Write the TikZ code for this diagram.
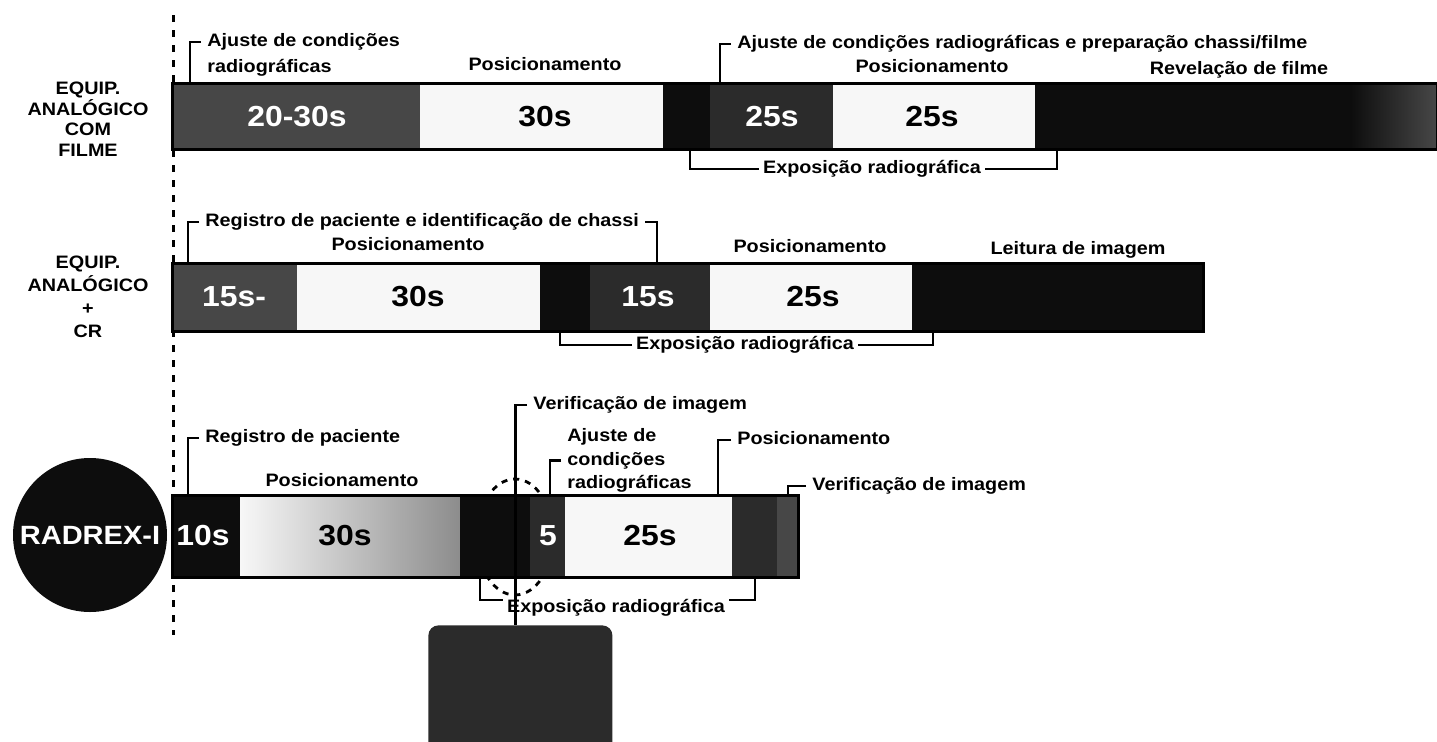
\documentclass[tikz,border=0pt]{standalone}
\usepackage{fontspec}
\setmainfont{Liberation Sans}[FakeStretch=1.1]
\usetikzlibrary{positioning}

\definecolor{segblack}{gray}{0.05}
\definecolor{segdeep}{gray}{0.17}
\definecolor{segdark}{gray}{0.28}
\definecolor{seglight}{gray}{0.97}

\tikzset{
  lbl/.style={font=\fontsize{9}{11}\selectfont\bfseries, inner sep=2pt, text height=6.5pt, text depth=1.9pt},
  numw/.style={font=\fontsize{14.5}{16}\selectfont\bfseries, text=white},
  numb/.style={font=\fontsize{14.5}{16}\selectfont\bfseries},
  equip/.style={font=\fontsize{9}{10.25}\selectfont\bfseries, align=center},
  brk/.style={line width=1.4pt},
  bar/.style={line width=1.5pt},
  guide/.style={line width=1.5pt, dash pattern=on 3.5pt off 4pt}
}

\begin{document}
\begin{tikzpicture}[x=0.5pt, y=-0.5pt]
\useasboundingbox (0,0) rectangle (1437,741);

\draw[guide] (173,15) -- (173,635);

% analogico com filme
\fill[segdark] (172,83) rectangle (420,149);
\fill[seglight] (420,83) rectangle (663,149);
\fill[segblack] (663,83) rectangle (710,149);
\fill[segdeep] (710,83) rectangle (833,149);
\fill[seglight] (833,83) rectangle (1035,149);
\fill[segblack] (1035,83) rectangle (1350,149);
\shade[left color=segblack, right color=segdark] (1350,83) rectangle (1437,149);
\draw[bar] (172,83) rectangle (1437,149);

\node[numw] (r1n1) at (297,117) {20-30s};
\node[numb] (r1n2) at (545,117) {30s};
\node[numw] (r1n3) at (772,117) {25s};
\node[numb] (r1n4) at (932,117) {25s};

\node[equip] (eq1) at (88,119) {EQUIP.\\ANALÓGICO\\COM\\FILME};

\node[lbl, anchor=west] (r1a) at (203,42) {Ajuste de condições};
\node[lbl, below right=0pt and 0pt of r1a.south west] (r1b) {radiográficas};
\coordinate (r1k1) at (190,83);
\draw[brk] ([xshift=-1pt]r1a.west) -| (r1k1);
\node[lbl] (r1p1) at (545,66) {Posicionamento};
\node[lbl, anchor=west] (r1c) at (733,44) {Ajuste de condições radiográficas e preparação chassi/filme};
\coordinate (r1k2) at (720,83);
\draw[brk] ([xshift=-1pt]r1c.west) -| (r1k2);
\node[lbl] (r1p2) at (932,68) {Posicionamento};
\node[lbl] (r1rv) at (1239,70) {Revelação de filme};
\node[lbl] (r1ex) at (872,169) {Exposição radiográfica};
\coordinate (r1e1) at (690,149);
\coordinate (r1e2) at (1057,149);
\draw[brk] (r1ex.west) -| (r1e1);
\draw[brk] (r1ex.east) -| (r1e2);

% analogico + CR
\fill[segdark] (172,263) rectangle (297,331);
\fill[seglight] (297,263) rectangle (540,331);
\fill[segblack] (540,263) rectangle (590,331);
\fill[segdeep] (590,263) rectangle (710,331);
\fill[seglight] (710,263) rectangle (912,331);
\fill[segblack] (912,263) rectangle (1203,331);
\draw[bar] (172,263) rectangle (1203,331);

\node[numw] (r2n1) at (234,297) {15s-};
\node[numb] (r2n2) at (418,297) {30s};
\node[numw] (r2n3) at (648,297) {15s};
\node[numb] (r2n4) at (813,297) {25s};

\node[equip, font=\fontsize{9}{11.5}\selectfont\bfseries] (eq2) at (88,297) {EQUIP.\\ANALÓGICO\\+\\CR};

\node[lbl, anchor=west] (r2a) at (201,222) {Registro de paciente e identificação de chassi};
\coordinate (r2k1) at (188,263);
\coordinate (r2k2) at (657,263);
\draw[brk] ([xshift=-1pt]r2a.west) -| (r2k1);
\draw[brk] ([xshift=1pt]r2a.east) -| (r2k2);
\node[lbl] (r2p1) at (408,246) {Posicionamento};
\node[lbl] (r2p2) at (810,248) {Posicionamento};
\node[lbl] (r2lt) at (1078,250) {Leitura de imagem};
\node[lbl] (r2ex) at (745,345) {Exposição radiográfica};
\coordinate (r2e1) at (560,331);
\coordinate (r2e2) at (933,331);
\draw[brk] (r2ex.west) -| (r2e1);
\draw[brk] (r2ex.east) -| (r2e2);

% RADREX-I
\draw[line width=1.4pt, dashed] (515,537) ellipse (19pt and 29pt);
\fill[segblack] (172,495) rectangle (240,577);
\shade[left color=seglight, right color=black!45] (240,495) rectangle (460,577);
\fill[segblack] (460,495) rectangle (530,577);
\fill[segdeep] (530,495) rectangle (565,577);
\fill[seglight] (565,495) rectangle (732,577);
\fill[segdeep] (732,495) rectangle (777,577);
\fill[segdark] (777,495) rectangle (798,577);
\draw[bar] (172,495) rectangle (798,577);

\node[circle, fill=segblack, minimum size=77pt, inner sep=0pt, text=white,
  font=\fontsize{13.2}{15}\selectfont\bfseries] (rdx) at (90,535) {RADREX-I};

\node[numw] (r3n1) at (203,536) {10s};
\node[numb] (r3n2) at (345,536) {30s};
\node[numw] (r3n3) at (548,536) {5};
\node[numb] (r3n4) at (650,536) {25s};

\node[fill=segdeep, rounded corners=5pt, minimum width=92pt, minimum height=80pt,
  inner sep=0pt, anchor=north west] (r3img) at (428,625) {};

\node[lbl, anchor=west] (r3a) at (201,438) {Registro de paciente};
\coordinate (r3k1) at (188,495);
\draw[brk] ([xshift=-1pt]r3a.west) -| (r3k1);
\node[lbl] (r3p1) at (342,482) {Posicionamento};
\node[lbl, anchor=west] (r3v1) at (529,405) {Verificação de imagem};
\draw[brk] ([xshift=-1pt]r3v1.west) -| ([xshift=-2.5pt]r3img.north);
\node[lbl, anchor=west] (r3j1) at (563,437) {Ajuste de};
\node[lbl, below right=-1pt and 0pt of r3j1.south west] (r3j2) {condições};
\node[lbl, below right=-1pt and 0pt of r3j2.south west] (r3j3) {radiográficas};
\coordinate (r3k2) at (550,495);
\draw[brk] ([xshift=-1pt]r3j2.west) -| (r3k2);
\node[lbl, anchor=west] (r3p2) at (733,440) {Posicionamento};
\coordinate (r3k3) at (718,495);
\draw[brk] ([xshift=-1pt]r3p2.west) -| (r3k3);
\node[lbl, anchor=west] (r3v2) at (808,486) {Verificação de imagem};
\coordinate (r3k4) at (788,495);
\draw[brk] ([xshift=-1pt]r3v2.west) -| (r3k4);
\node[lbl] (r3ex) at (616,608) {Exposição radiográfica};
\coordinate (r3e1) at (480,577);
\coordinate (r3e2) at (755,577);
\draw[brk] ([yshift=4pt]r3ex.west) -| (r3e1);
\draw[brk] ([yshift=4pt]r3ex.east) -| (r3e2);
\end{tikzpicture}
\end{document}
